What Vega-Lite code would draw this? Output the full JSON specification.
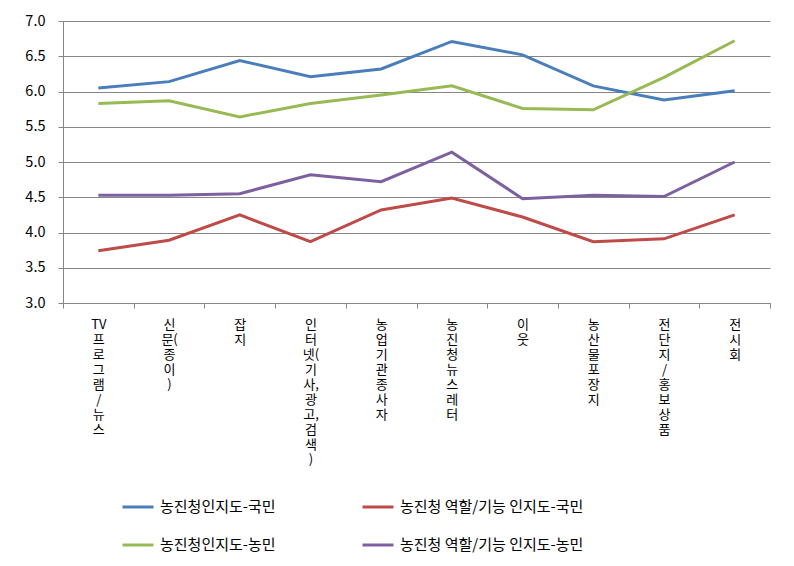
{
  "$schema": "https://vega.github.io/schema/vega-lite/v6.json",
  "width": 707,
  "height": 282,
  "autosize": {"type": "none"},
  "padding": {"left": 63, "top": 21, "right": 24, "bottom": 263},
  "background": "white",
  "config": {"view": {"stroke": null}, "font": "Noto Sans CJK KR"},
  "data": {"values": [
    {"cat": "TV프로그램/뉴스", "series": "농진청인지도-국민", "value": 6.05},
    {"cat": "신문(종이)", "series": "농진청인지도-국민", "value": 6.14},
    {"cat": "잡지", "series": "농진청인지도-국민", "value": 6.44},
    {"cat": "인터넷(기사,광고,검색)", "series": "농진청인지도-국민", "value": 6.21},
    {"cat": "농업기관종사자", "series": "농진청인지도-국민", "value": 6.32},
    {"cat": "농진청 뉴스레터", "series": "농진청인지도-국민", "value": 6.71},
    {"cat": "이웃", "series": "농진청인지도-국민", "value": 6.52},
    {"cat": "농산물 포장지", "series": "농진청인지도-국민", "value": 6.08},
    {"cat": "전단지/홍보 상품", "series": "농진청인지도-국민", "value": 5.88},
    {"cat": "전시회", "series": "농진청인지도-국민", "value": 6.01},
    {"cat": "TV프로그램/뉴스", "series": "농진청 역할/기능 인지도-국민", "value": 3.74},
    {"cat": "신문(종이)", "series": "농진청 역할/기능 인지도-국민", "value": 3.89},
    {"cat": "잡지", "series": "농진청 역할/기능 인지도-국민", "value": 4.25},
    {"cat": "인터넷(기사,광고,검색)", "series": "농진청 역할/기능 인지도-국민", "value": 3.87},
    {"cat": "농업기관종사자", "series": "농진청 역할/기능 인지도-국민", "value": 4.32},
    {"cat": "농진청 뉴스레터", "series": "농진청 역할/기능 인지도-국민", "value": 4.49},
    {"cat": "이웃", "series": "농진청 역할/기능 인지도-국민", "value": 4.22},
    {"cat": "농산물 포장지", "series": "농진청 역할/기능 인지도-국민", "value": 3.87},
    {"cat": "전단지/홍보 상품", "series": "농진청 역할/기능 인지도-국민", "value": 3.91},
    {"cat": "전시회", "series": "농진청 역할/기능 인지도-국민", "value": 4.25},
    {"cat": "TV프로그램/뉴스", "series": "농진청인지도-농민", "value": 5.83},
    {"cat": "신문(종이)", "series": "농진청인지도-농민", "value": 5.87},
    {"cat": "잡지", "series": "농진청인지도-농민", "value": 5.64},
    {"cat": "인터넷(기사,광고,검색)", "series": "농진청인지도-농민", "value": 5.83},
    {"cat": "농업기관종사자", "series": "농진청인지도-농민", "value": 5.95},
    {"cat": "농진청 뉴스레터", "series": "농진청인지도-농민", "value": 6.08},
    {"cat": "이웃", "series": "농진청인지도-농민", "value": 5.76},
    {"cat": "농산물 포장지", "series": "농진청인지도-농민", "value": 5.74},
    {"cat": "전단지/홍보 상품", "series": "농진청인지도-농민", "value": 6.20},
    {"cat": "전시회", "series": "농진청인지도-농민", "value": 6.72},
    {"cat": "TV프로그램/뉴스", "series": "농진청 역할/기능 인지도-농민", "value": 4.53},
    {"cat": "신문(종이)", "series": "농진청 역할/기능 인지도-농민", "value": 4.53},
    {"cat": "잡지", "series": "농진청 역할/기능 인지도-농민", "value": 4.55},
    {"cat": "인터넷(기사,광고,검색)", "series": "농진청 역할/기능 인지도-농민", "value": 4.82},
    {"cat": "농업기관종사자", "series": "농진청 역할/기능 인지도-농민", "value": 4.72},
    {"cat": "농진청 뉴스레터", "series": "농진청 역할/기능 인지도-농민", "value": 5.14},
    {"cat": "이웃", "series": "농진청 역할/기능 인지도-농민", "value": 4.48},
    {"cat": "농산물 포장지", "series": "농진청 역할/기능 인지도-농민", "value": 4.53},
    {"cat": "전단지/홍보 상품", "series": "농진청 역할/기능 인지도-농민", "value": 4.51},
    {"cat": "전시회", "series": "농진청 역할/기능 인지도-농민", "value": 5.00}
  ]},
  "mark": {"type": "line", "strokeWidth": 3},
  "encoding": {
    "x": {
      "field": "cat", "type": "nominal",
      "sort": ["TV프로그램/뉴스", "신문(종이)", "잡지", "인터넷(기사,광고,검색)", "농업기관종사자", "농진청 뉴스레터", "이웃", "농산물 포장지", "전단지/홍보 상품", "전시회"],
      "scale": {"type": "band", "paddingInner": 0, "paddingOuter": 0},
      "axis": {
        "title": null, "tickBand": "extent", "labelAngle": 0, "labelAlign": "center", "labelBaseline": "top",
        "labelExpr": "!isValid(datum.value) ? '' : datum.value === 'TV프로그램/뉴스' ? ['TV','프','로','그','램','/','뉴','스'] : datum.value === '신문(종이)' ? ['신','문(','종','이',')'] : datum.value === '인터넷(기사,광고,검색)' ? ['인','터','넷(','기','사,','광','고,','검','색',')'] : split(replace(datum.value, ' ', ''), '')",
        "labelFontSize": 13, "labelLineHeight": 15, "labelPadding": 10, "labelColor": "#000000",
        "domainColor": "#868686", "tickColor": "#868686", "tickSize": 5, "grid": false, "labelLimit": 0
      }
    },
    "y": {
      "field": "value", "type": "quantitative",
      "scale": {"domain": [3, 7], "nice": false, "zero": false},
      "axis": {
        "title": null, "values": [3, 3.5, 4, 4.5, 5, 5.5, 6, 6.5, 7], "format": ".1f",
        "tickSize": 5, "grid": true, "gridColor": "#868686", "domainColor": "#868686", "tickColor": "#868686",
        "labelFontSize": 14.5, "labelPadding": 13, "labelColor": "#000000"
      }
    },
    "color": {
      "field": "series", "type": "nominal",
      "scale": {
        "domain": ["농진청인지도-국민", "농진청인지도-농민", "농진청 역할/기능 인지도-국민", "농진청 역할/기능 인지도-농민"],
        "range": ["#4A7EBB", "#98B954", "#BE4B48", "#7D60A0"]
      },
      "legend": {
        "title": null, "orient": "none", "legendX": 58, "legendY": 469, "columns": 2,
        "symbolType": "stroke", "symbolSize": 961, "symbolStrokeWidth": 3,
        "labelFontSize": 15, "labelColor": "#000000", "labelOffset": 5, "labelLimit": 400,
        "columnPadding": 80, "rowPadding": 13
      }
    }
  }
}
